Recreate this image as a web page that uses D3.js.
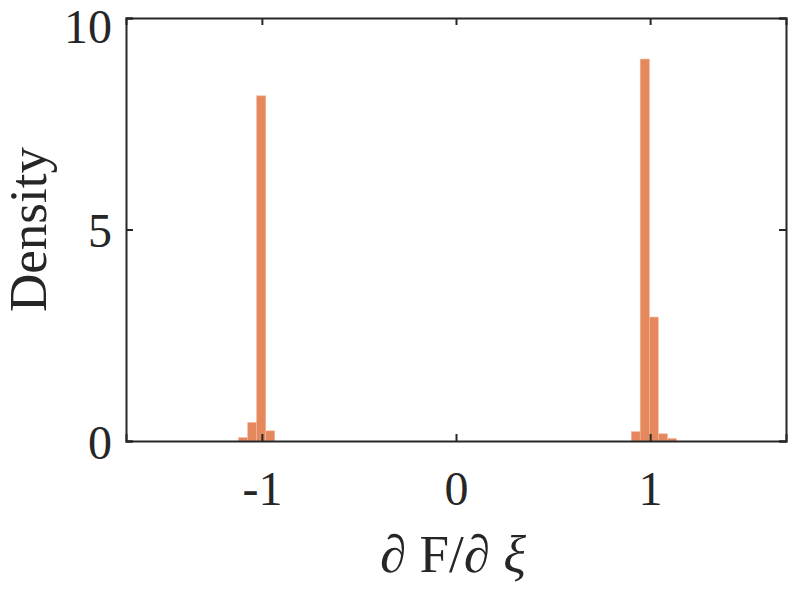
<!DOCTYPE html>
<html>
<head>
<meta charset="utf-8">
<script src="https://cdn.jsdelivr.net/npm/d3@7"></script>
<style>
  html, body { margin: 0; padding: 0; background: #fff; }
  text { font-family: "Liberation Serif", "DejaVu Serif Condensed", serif; font-stretch: condensed; fill: #262626; }
</style>
</head>
<body>
<svg id="chart"></svg>
<script>
// histogram bins (bin edges in data units, density per bin)
const leftEdges = [-1.120, -1.073, -1.027, -0.980, -0.934];
const leftDensity = [0.08, 0.44, 8.16, 0.24];
const rightEdges = [0.903, 0.949, 0.996, 1.042, 1.089, 1.135];
const rightDensity = [0.22, 9.03, 2.93, 0.17, 0.06];

const xTicks = [-1, 0, 1];
const yTicks = [0, 5, 10];

const width = 793, height = 591;
const margin = { top: 18, right: 7, bottom: 150, left: 126 };
const serif = '"Liberation Serif", "DejaVu Serif Condensed", serif';

const svg = d3.select('#chart')
    .attr('width', width)
    .attr('height', height);

const x = d3.scaleLinear()
    .domain([-1.7, 1.7])
    .range([margin.left, width - margin.right]);

const y = d3.scaleLinear()
    .domain([0, 10])
    .range([height - margin.bottom, margin.top]);

// Build bin objects from the edge/density arrays
function toBins(edges, dens) {
    return dens.map((d, i) => ({ x0: edges[i], x1: edges[i + 1], density: d }));
}
const bins = toBins(leftEdges, leftDensity).concat(toBins(rightEdges, rightDensity));

// Bars
svg.append('g')
    .selectAll('rect')
    .data(bins)
    .enter().append('rect')
    .attr('x', d => x(d.x0))
    .attr('width', d => x(d.x1) - x(d.x0))
    .attr('y', d => y(d.density))
    .attr('height', d => y(0) - y(d.density))
    .attr('fill', '#e5885e')
    .attr('stroke', '#f2b89c')
    .attr('stroke-width', 0.6);

// Axes, ticks pointing inward, mirrored on top and right
const tickLen = 7;
const axisColor = '#262626';
const plain = d => String(d);

const xAxis = svg.append('g')
    .attr('transform', `translate(0,${y(0)})`)
    .call(d3.axisBottom(x).tickValues(xTicks).tickSize(-tickLen).tickPadding(64).tickFormat(plain));

const xAxisTop = svg.append('g')
    .attr('transform', `translate(0,${y(10)})`)
    .call(d3.axisTop(x).tickValues(xTicks).tickSize(-tickLen).tickFormat(''));

const yAxis = svg.append('g')
    .attr('transform', `translate(${x(-1.7)},0)`)
    .call(d3.axisLeft(y).tickValues(yTicks).tickSize(-tickLen).tickPadding(14).tickFormat(plain));

const yAxisRight = svg.append('g')
    .attr('transform', `translate(${x(1.7)},0)`)
    .call(d3.axisRight(y).tickValues(yTicks).tickSize(-tickLen).tickFormat(''));

[xAxis, xAxisTop, yAxis, yAxisRight].forEach(g => {
    g.attr('font-family', serif);
    g.select('.domain').attr('stroke', axisColor).attr('stroke-width', 2);
    g.selectAll('.tick line').attr('stroke', axisColor).attr('stroke-width', 2);
    g.selectAll('.tick text')
        .attr('fill', axisColor)
        .style('font-family', serif)
        .style('font-stretch', 'condensed')
        .style('font-size', '48px');
});
xAxis.selectAll('.tick text').attr('dy', 0);
yAxis.selectAll('.tick text').attr('dy', '0.36em');
// keep the top label inside the picture
yAxis.selectAll('.tick text').filter(d => d === 10).attr('dy', '0.52em');

// Axis labels
svg.append('text')
    .attr('transform', `translate(46,${(y(0) + y(10)) / 2}) rotate(-90)`)
    .attr('text-anchor', 'middle')
    .style('font-size', '53px')
    .text('Density');

const xl = svg.append('text')
    .attr('x', x(0) - 3)
    .attr('y', 572)
    .attr('text-anchor', 'middle')
    .style('font-size', '53px');
xl.append('tspan').text('\u2202 F/\u2202 ');
xl.append('tspan').style('font-style', 'italic').text('\u03be');
</script>
</body>
</html>
